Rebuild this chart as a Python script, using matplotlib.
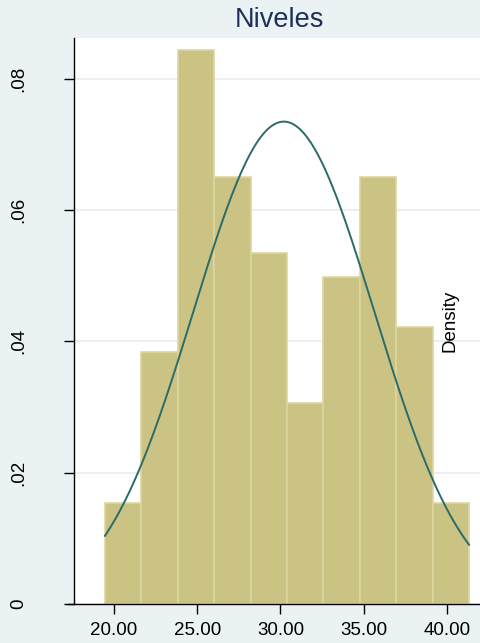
import numpy as np
import matplotlib
matplotlib.use('Agg')
import matplotlib.pyplot as plt

plt.rcParams['font.family'] = ['Liberation Sans', 'DejaVu Sans']

# histogram of Niveles (density scale)
bin_edges = [19.46, 21.65, 23.83, 26.02, 28.21, 30.39, 32.58, 34.77, 36.95, 39.14, 41.32]
densities = [0.0154, 0.0384, 0.0843, 0.0651, 0.0535, 0.0306, 0.0498, 0.0651, 0.0422, 0.0154]

# fitted normal
mu = 30.2
sigma = 5.43

xticks = [20, 25, 30, 35, 40]
xticklabels = ['20.00', '25.00', '30.00', '35.00', '40.00']
yticks = [0, 0.02, 0.04, 0.06, 0.08]
yticklabels = ['0', '.02', '.04', '.06', '.08']

bg = '#EAF2F3'
fig = plt.figure(figsize=(4.81, 6.43), dpi=100, facecolor=bg)
ax = fig.add_axes([74/481, 39/643, 407/481, 566/643])
ax.set_facecolor('white')

widths = np.diff(bin_edges)
ax.bar(bin_edges[:-1], densities, width=widths, align='edge',
       color='#CBC383', edgecolor='#DDD6A0', linewidth=1.2, zorder=2)

xs = np.linspace(bin_edges[0], bin_edges[-1], 300)
ys = np.exp(-0.5 * ((xs - mu) / sigma) ** 2) / (sigma * np.sqrt(2 * np.pi))
ax.plot(xs, ys, color='#2B6B68', linewidth=1.4, zorder=3)

ax.set_xlim(17.6, 42.04)
ax.set_ylim(0, 0.0862)
ax.set_xticks(xticks)
ax.set_xticklabels(xticklabels, fontsize=13.5)
ax.set_yticks(yticks)
ax.set_yticklabels(yticklabels, fontsize=13.5, rotation=90, va='center')
ax.tick_params(axis='both', direction='out', length=7, width=1, colors='black', pad=6)
ax.tick_params(axis='y', pad=27)

ax.yaxis.grid(True, color='#E6EEF0', linewidth=1.2, zorder=0)
ax.set_axisbelow(True)
for s in ['top', 'right']:
    ax.spines[s].set_visible(False)
ax.spines['left'].set_linewidth(1)
ax.spines['bottom'].set_linewidth(1)
ax.spines['bottom'].set_bounds(17.25, 42.04)

ax.text(0.925, 0.5, 'Density', transform=ax.transAxes, rotation=90,
        ha='center', va='center', fontsize=13.5)

fig.text(279/481, 1 - 20/643, 'Niveles', ha='center', va='center',
         fontsize=19.5, color='#1E2F5A')

fig.savefig('out.png', dpi=100, facecolor=bg)
